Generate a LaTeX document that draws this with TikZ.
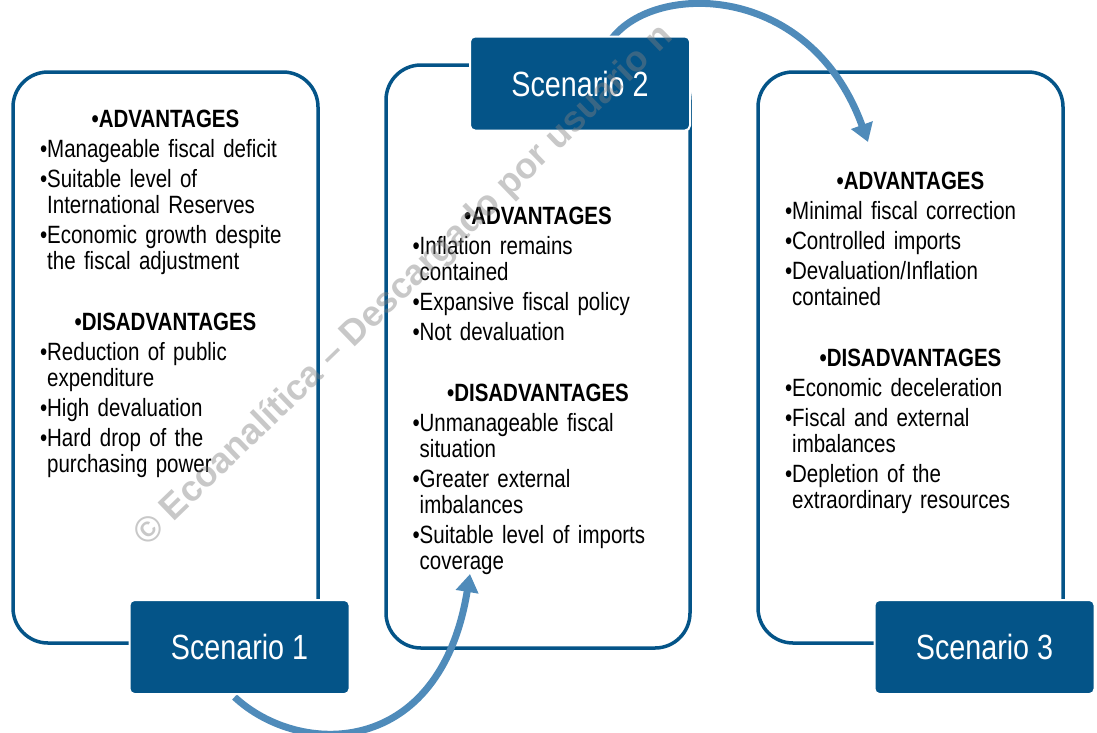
\documentclass[tikz,border=0pt]{standalone}
\usepackage{fontspec}
\setmainfont[FakeStretch=0.82]{Liberation Sans}
\newfontfamily\wmfont{Liberation Sans}
\usepackage{tikz}
\usetikzlibrary{arrows.meta}

\definecolor{scenblue}{HTML}{045488}
\definecolor{arrowblue}{HTML}{4F8BBA}
\definecolor{wmgray}{HTML}{808080}

\pgfdeclarelayer{back}
\pgfdeclarelayer{mid}
\pgfsetlayers{back,mid,main}

\newcommand{\itm}[1]{\par\hangindent=7.2pt\hangafter=1 •#1}
\newcommand{\hdr}[1]{\par{\centering\bfseries •#1\par}}
\newcommand{\lst}{\setlength{\parindent}{0pt}\setlength{\parskip}{4pt}}

\begin{document}
\begin{tikzpicture}[x=1pt, y=-1pt]
    % Styles
    \tikzstyle{panel} = [rectangle, draw=scenblue, line width=3.5pt, rounded corners=35pt, fill=white, inner sep=0pt]
    \tikzstyle{scen} = [rectangle, draw=white, line width=2pt, fill=scenblue, rounded corners=5pt, minimum width=220pt, minimum height=94pt, text=white, font=\fontsize{35}{40}\selectfont]
    \tikzstyle{list} = [anchor=north, inner sep=0pt, text width=251pt, align=left, font=\fontsize{25}{26}\selectfont]
    \tikzstyle{arrow} = [arrowblue, line width=7pt, -{Triangle[length=18pt, width=22pt]}]
    \tikzstyle{wm} = [text=wmgray, text opacity=0.43, font=\wmfont\bfseries\fontsize{36}{36}\selectfont, inner sep=0pt]

    \useasboundingbox (0,0) rectangle (1097,732);

    % Scenario boxes
    \node[scen] (s1) at (239.5, 647) {Scenario 1};
    \node[scen] (s2) at (580, 83.5) {Scenario 2};
    \node[scen] (s3) at (984.5, 647) {Scenario 3};

    \begin{pgfonlayer}{back}
    % Panels
    \node[panel, minimum width=305pt, minimum height=571pt] (p1) at (165.5, 357.5) {};
    \node[panel, minimum width=304pt, minimum height=583pt] (p2) at (538, 356.5) {};
    \node[panel, minimum width=305pt, minimum height=571pt] (p3) at (910.5, 357.5) {};

    % Lists
    \node[list] (l1) at (165.5, 97) {\lst
        \hdr{ADVANTAGES}
        \itm{Manageable fiscal deficit}
        \itm{Suitable level of\newline International Reserves}
        \itm{Economic growth despite\newline the fiscal adjustment}
        \par\vspace{31pt}
        \hdr{DISADVANTAGES}
        \itm{Reduction of public\newline expenditure}
        \itm{High devaluation}
        \itm{Hard drop of the\newline purchasing power}\par};
    \node[list] (l2) at (538, 194) {\lst
        \hdr{ADVANTAGES}
        \itm{Inflation remains\newline contained}
        \itm{Expansive fiscal policy}
        \itm{Not devaluation}
        \par\vspace{31pt}
        \hdr{DISADVANTAGES}
        \itm{Unmanageable fiscal\newline situation}
        \itm{Greater external\newline imbalances}
        \itm{Suitable level of imports\newline coverage}\par};
    \node[list] (l3) at (910.5, 159) {\lst
        \hdr{ADVANTAGES}
        \itm{Minimal fiscal correction}
        \itm{Controlled imports}
        \itm{Devaluation/Inflation\newline contained}
        \par\vspace{31pt}
        \hdr{DISADVANTAGES}
        \itm{Economic deceleration}
        \itm{Fiscal and external\newline imbalances}
        \itm{Depletion of the\newline extraordinary resources}\par};
    \end{pgfonlayer}

    % Arrows
    \coordinate (t2) at (470, 574);
    \coordinate (t3) at (868, 142);
    \begin{pgfonlayer}{mid}
    \draw[arrow] ([xshift=-5pt, yshift=-2pt]s1.south) .. controls (300, 758) and (440, 758) .. (t2);
    \draw[arrow] ([xshift=32pt, yshift=-3pt]s2.north) .. controls (655, -18) and (810, -18) .. (t3);
    \end{pgfonlayer}

    % Watermark
    \begin{scope}
        \clip (0,0) rectangle (1097,732);
        \node[wm, anchor=west, rotate=44] (mark) at (141, 541) {© Ecoanalítica – Descargado por usuario n};
    \end{scope}
\end{tikzpicture}
\end{document}
